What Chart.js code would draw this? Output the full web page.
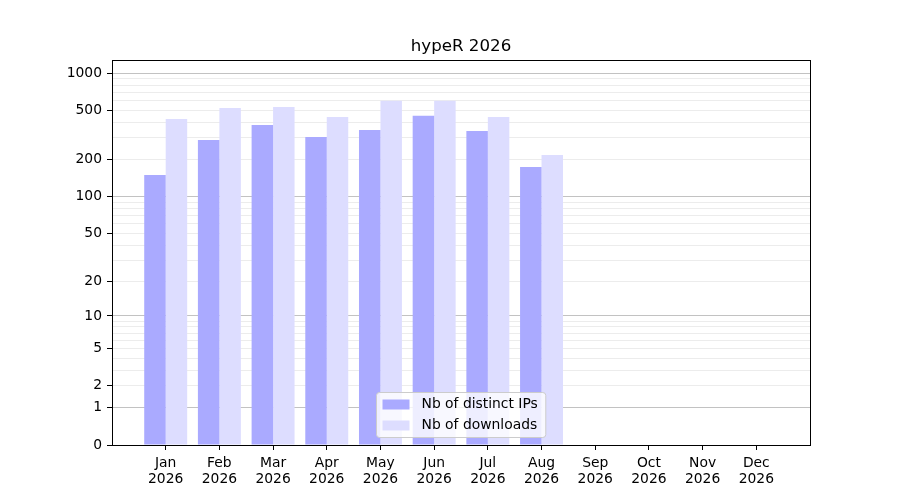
<!DOCTYPE html>
<html>
<head>
<meta charset="utf-8">
<title>hypeR 2026</title>
<script src="https://cdn.jsdelivr.net/npm/chart.js@4.4.1/dist/chart.umd.min.js"></script>
<style>
  html, body { margin: 0; padding: 0; background: #fff; }
  #wrap { width: 900px; height: 500px; position: relative; }
</style>
</head>
<body>
<div id="wrap"><canvas id="chart"></canvas></div>
<script>
// Data
const months = ["Jan", "Feb", "Mar", "Apr", "May", "Jun", "Jul", "Aug", "Sep", "Oct", "Nov", "Dec"];
const year = "2026";
const distinctIPs = [150, 288, 381, 305, 348, 454, 341, 174];
const downloads = [427, 524, 534, 443, 600, 600, 443, 218];

// y axis ticks (log(1 + x) axis)
const yLabelTicks = [0, 1, 2, 5, 10, 20, 50, 100, 200, 500, 1000];
const yMajorGrid = [1, 10, 100, 1000];
const yMinorGrid = [2, 3, 4, 5, 6, 7, 8, 9, 20, 30, 40, 50, 60, 70, 80, 90,
  200, 300, 400, 500, 600, 700, 800, 900];
const yMax = 1280;

const FONT = "'DejaVu Sans'";
const TICK_SIZE = 13.89;

// scale where pixel ~ log10(value + 1)
class Log1pScale extends Chart.Scale {
  static id = "log1p";
  static defaults = {};

  determineDataLimits() {
    const { min, max } = this.getMinMax(true);
    this.min = Number.isFinite(this.options.min) ? this.options.min : Math.min(0, min);
    this.max = Number.isFinite(this.options.max) ? this.options.max : max;
  }

  buildTicks() {
    const all = [...new Set([...yLabelTicks, ...yMajorGrid, ...yMinorGrid])].sort((a, b) => a - b);
    return all.filter((v) => v >= this.min && v <= this.max).map((v) => ({ value: v }));
  }

  configure() {
    super.configure();
    this._startValue = Math.log10(this.min + 1);
    this._valueRange = Math.log10(this.max + 1) - this._startValue;
  }

  getLabelForValue(value) {
    return String(value);
  }

  getPixelForValue(value) {
    if (value === null || value === undefined || isNaN(value)) return NaN;
    return this.getPixelForDecimal((Math.log10(value + 1) - this._startValue) / this._valueRange);
  }

  getValueForPixel(pixel) {
    return Math.pow(10, this._startValue + this.getDecimalForPixel(pixel) * this._valueRange) - 1;
  }
}
Chart.register(Log1pScale);

// Box around the plot area
const framePlugin = {
  id: "frame",
  afterDraw(chart) {
    const { ctx, chartArea } = chart;
    const l = Math.round(chartArea.left) + 0.5;
    const t = Math.round(chartArea.top) + 0.5;
    const r = Math.round(chartArea.right) + 0.5;
    const b = Math.round(chartArea.bottom) + 0.5;
    ctx.save();
    ctx.strokeStyle = "#000";
    ctx.lineWidth = 1;
    ctx.strokeRect(l, t, r - l, b - t);
    ctx.restore();
  },
};

// Legend drawn inside the plot, lower centre
const innerLegend = {
  id: "innerLegend",
  afterDraw(chart) {
    const { ctx, chartArea } = chart;
    const sets = chart.data.datasets;
    ctx.save();
    ctx.font = TICK_SIZE + "px " + FONT;
    const textW = Math.max(...sets.map((d) => ctx.measureText(d.label).width));
    const padL = 6, padR = 8, swatchW = 27, gap = 12, rowH = 21;
    const w = padL + swatchW + gap + textW + padR;
    const h = 24 + rowH * (sets.length - 1);
    const x = Math.round((chartArea.left + chartArea.right) / 2 - w / 2) + 0.5;
    const y = Math.round(chartArea.bottom - 8 - h) + 0.5;

    ctx.beginPath();
    ctx.roundRect(x, y, w, h, 3);
    ctx.fillStyle = "rgba(255,255,255,0.8)";
    ctx.fill();
    ctx.strokeStyle = "#cccccc";
    ctx.lineWidth = 1;
    ctx.stroke();

    sets.forEach((d, i) => {
      const cy = y + 12 + i * rowH;
      ctx.fillStyle = d.backgroundColor;
      ctx.fillRect(x + padL, cy - 5, swatchW, 10);
      ctx.fillStyle = "#000";
      ctx.textBaseline = "middle";
      ctx.textAlign = "left";
      ctx.fillText(d.label, x + padL + swatchW + gap, cy);
    });
    ctx.restore();
  },
};

Chart.defaults.font.family = FONT;
Chart.defaults.font.size = TICK_SIZE;
Chart.defaults.color = "#000";

const ctx = document.getElementById("chart").getContext("2d");

new Chart(ctx, {
  type: "bar",
  data: {
    datasets: [
      {
        label: "Nb of distinct IPs",
        data: distinctIPs.map((v, i) => ({ x: i, y: v })),
        backgroundColor: "#aaaaff",
        borderWidth: 0,
        categoryPercentage: 0.8,
        barPercentage: 1.0,
      },
      {
        label: "Nb of downloads",
        data: downloads.map((v, i) => ({ x: i, y: v })),
        backgroundColor: "#ddddff",
        borderWidth: 0,
        categoryPercentage: 0.8,
        barPercentage: 1.0,
      },
    ],
  },
  options: {
    responsive: true,
    maintainAspectRatio: false,
    animation: false,
    layout: { padding: { left: 0, right: 90, top: 0, bottom: 0 } },
    plugins: {
      legend: { display: false },
      tooltip: { enabled: false },
      title: {
        display: true,
        fullSize: false,
        text: "hypeR " + year,
        font: { size: 16.67, weight: "normal", lineHeight: 1.2 },
        color: "#000",
        padding: { top: 37, bottom: 3 },
      },
    },
    scales: {
      x: {
        type: "linear",
        min: -1,
        max: months.length,
        offset: false,
        border: { display: false },
        grid: {
          offset: false,
          drawOnChartArea: false,
          tickLength: 5,
          tickColor: "#000",
          tickWidth: 1,
        },
        ticks: {
          stepSize: 1,
          autoSkip: false,
          maxRotation: 0,
          padding: 6,
          font: { size: TICK_SIZE, lineHeight: 1.1 },
          callback: (v) => [months[v], year],
        },
        afterBuildTicks: (scale) => {
          scale.ticks = scale.ticks.filter((t) => t.value >= 0 && t.value < months.length);
        },
        afterFit: (scale) => {
          scale.height = 55;
        },
      },
      y: {
        type: "log1p",
        min: 0,
        max: yMax,
        z: 1,
        border: { display: false },
        grid: {
          lineWidth: 1,
          tickLength: 5,
          tickWidth: 1,
          color: (c) => {
            const v = c.tick ? c.tick.value : null;
            if (yMajorGrid.includes(v)) return "rgba(0,0,0,0.24)";
            if (yMinorGrid.includes(v)) return "rgba(0,0,0,0.075)";
            return "rgba(0,0,0,0)";
          },
          tickColor: (c) => (c.tick && yLabelTicks.includes(c.tick.value) ? "#000" : "rgba(0,0,0,0)"),
        },
        ticks: {
          autoSkip: false,
          padding: 5,
          font: { size: TICK_SIZE },
          callback: (v) => (yLabelTicks.includes(v) ? String(v) : ""),
        },
        afterFit: (scale) => {
          scale.width = 112;
        },
      },
    },
  },
  plugins: [framePlugin, innerLegend],
});
</script>
</body>
</html>
